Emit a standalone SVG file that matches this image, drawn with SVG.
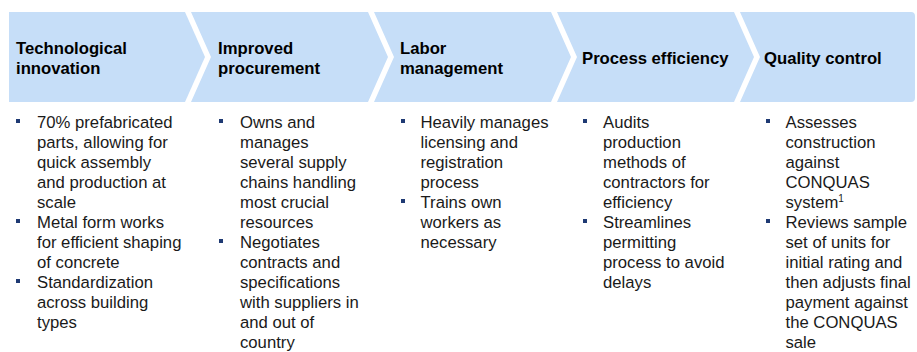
<svg xmlns="http://www.w3.org/2000/svg" width="917" height="352" viewBox="0 0 917 352">
<style>
.chev{fill:#C6DEF8;}
.hd{font-family:"Liberation Sans",Arial,sans-serif;font-weight:bold;font-size:16.7px;fill:#000;}
.tx{font-family:"Liberation Sans",Arial,sans-serif;font-size:16.7px;fill:#1a1a1a;}
.bl{fill:#1F3A73;}
.sup{font-size:10px;}
</style>
<rect width="917" height="352" fill="#fff"/>
<g id="connectors"/>
<g id="node1">
<path class="chev" d="M9,12 H185 L205,57 L185,102 H9 Z"/>
<text class="hd" x="16" y="54">Technological</text>
<text class="hd" x="16" y="74">innovation</text>
<rect class="bl" x="16" y="119" width="4" height="4"/>
<rect class="bl" x="16" y="219" width="4" height="4"/>
<rect class="bl" x="16" y="279" width="4" height="4"/>
<text class="tx" x="37" y="127.5">70% prefabricated</text>
<text class="tx" x="37" y="147.5">parts, allowing for</text>
<text class="tx" x="37" y="167.5">quick assembly</text>
<text class="tx" x="37" y="187.5">and production at</text>
<text class="tx" x="37" y="207.5">scale</text>
<text class="tx" x="37" y="227.5">Metal form works</text>
<text class="tx" x="37" y="247.5">for efficient shaping</text>
<text class="tx" x="37" y="267.5">of concrete</text>
<text class="tx" x="37" y="287.5">Standardization</text>
<text class="tx" x="37" y="307.5">across building</text>
<text class="tx" x="37" y="327.5">types</text>
</g>
<g id="node2">
<path class="chev" d="M191,12 H368 L388,57 L368,102 H191 L211,57 Z"/>
<text class="hd" x="218" y="54">Improved</text>
<text class="hd" x="218" y="74">procurement</text>
<rect class="bl" x="219" y="119" width="4" height="4"/>
<rect class="bl" x="219" y="239" width="4" height="4"/>
<text class="tx" x="240" y="127.5">Owns and</text>
<text class="tx" x="240" y="147.5">manages</text>
<text class="tx" x="240" y="167.5">several supply</text>
<text class="tx" x="240" y="187.5">chains handling</text>
<text class="tx" x="240" y="207.5">most crucial</text>
<text class="tx" x="240" y="227.5">resources</text>
<text class="tx" x="240" y="247.5">Negotiates</text>
<text class="tx" x="240" y="267.5">contracts and</text>
<text class="tx" x="240" y="287.5">specifications</text>
<text class="tx" x="240" y="307.5">with suppliers in</text>
<text class="tx" x="240" y="327.5">and out of</text>
<text class="tx" x="240" y="347.5">country</text>
</g>
<g id="node3">
<path class="chev" d="M374,12 H551 L571,57 L551,102 H374 L394,57 Z"/>
<text class="hd" x="400" y="54">Labor</text>
<text class="hd" x="400" y="74">management</text>
<rect class="bl" x="401" y="119" width="4" height="4"/>
<rect class="bl" x="401" y="199" width="4" height="4"/>
<text class="tx" x="420.5" y="127.5">Heavily manages</text>
<text class="tx" x="420.5" y="147.5">licensing and</text>
<text class="tx" x="420.5" y="167.5">registration</text>
<text class="tx" x="420.5" y="187.5">process</text>
<text class="tx" x="420.5" y="207.5">Trains own</text>
<text class="tx" x="420.5" y="227.5">workers as</text>
<text class="tx" x="420.5" y="247.5">necessary</text>
</g>
<g id="node4">
<path class="chev" d="M557,12 H734 L754,57 L734,102 H557 L577,57 Z"/>
<text class="hd" x="582" y="64">Process efficiency</text>
<rect class="bl" x="583" y="119" width="4" height="4"/>
<rect class="bl" x="583" y="219" width="4" height="4"/>
<text class="tx" x="603" y="127.5">Audits</text>
<text class="tx" x="603" y="147.5">production</text>
<text class="tx" x="603" y="167.5">methods of</text>
<text class="tx" x="603" y="187.5">contractors for</text>
<text class="tx" x="603" y="207.5">efficiency</text>
<text class="tx" x="603" y="227.5">Streamlines</text>
<text class="tx" x="603" y="247.5">permitting</text>
<text class="tx" x="603" y="267.5">process to avoid</text>
<text class="tx" x="603" y="287.5">delays</text>
</g>
<g id="node5">
<path class="chev" d="M740,12 H911 Q915,12 915,16 V98 Q915,102 911,102 H740 L760,57 Z"/>
<text class="hd" x="764" y="64">Quality control</text>
<rect class="bl" x="766" y="119" width="4" height="4"/>
<rect class="bl" x="766" y="219" width="4" height="4"/>
<text class="tx" x="785.5" y="127.5">Assesses</text>
<text class="tx" x="785.5" y="147.5">construction</text>
<text class="tx" x="785.5" y="167.5">against</text>
<text class="tx" x="785.5" y="187.5">CONQUAS</text>
<text class="tx" x="785.5" y="207.5">system<tspan class="sup" dy="-6">1</tspan></text>
<text class="tx" x="785.5" y="227.5">Reviews sample</text>
<text class="tx" x="785.5" y="247.5">set of units for</text>
<text class="tx" x="785.5" y="267.5">initial rating and</text>
<text class="tx" x="785.5" y="287.5">then adjusts final</text>
<text class="tx" x="785.5" y="307.5">payment against</text>
<text class="tx" x="785.5" y="327.5">the CONQUAS</text>
<text class="tx" x="785.5" y="347.5">sale</text>
</g>
</svg>
